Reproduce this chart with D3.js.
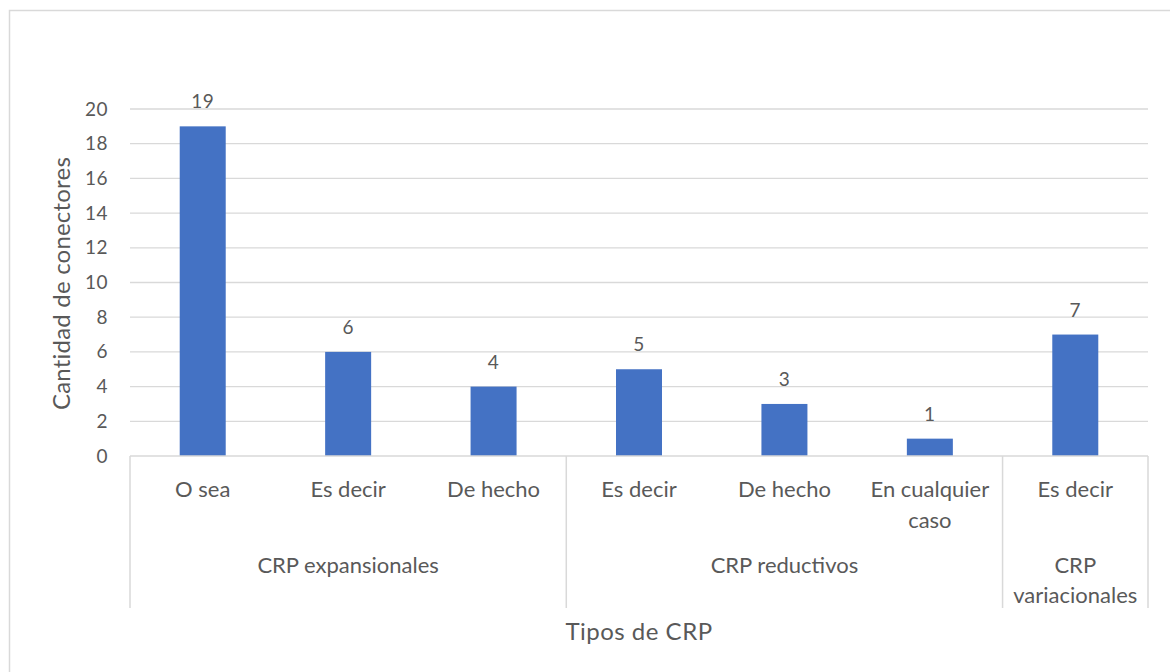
<!DOCTYPE html>
<html><head><meta charset="utf-8">
<script src="https://cdn.jsdelivr.net/npm/d3@7"></script>
<style>body{margin:0;background:#fff}svg{display:block}text{font-family:Lato,"Open Sans",sans-serif;fill:#595959}</style>
</head><body><svg id="c" width="1170" height="672"></svg>
<script>
const categories = ["O sea","Es decir","De hecho","Es decir","De hecho","En cualquier caso","Es decir"];
const categoryLines = [["O sea"],["Es decir"],["De hecho"],["Es decir"],["De hecho"],["En cualquier","caso"],["Es decir"]];
const groups = ["CRP expansionales","CRP reductivos","CRP variacionales"];
const groupLines = [["CRP expansionales"],["CRP reductivos"],["CRP","variacionales"]];
const groupSpans = [3,3,1];
const values = [19,6,4,5,3,1,7];
const yTicks = [0,2,4,6,8,10,12,14,16,18,20];

const svg = d3.select("#c");
const L=130, R=1148, T=109, B=456;
svg.append("rect").attr("x",9.5).attr("y",10.5).attr("width",1170).attr("height",700).attr("fill","none").attr("stroke","#d9d9d9").attr("stroke-width",1.5);

const x = d3.scaleBand().domain(d3.range(categories.length)).range([L,R]).paddingInner(0).paddingOuter(0);
const y = d3.scaleLinear().domain([0,20]).range([B,T]);

// gridlines
svg.append("g").selectAll("line").data(yTicks.filter(d=>d>0)).join("line")
  .attr("x1",L).attr("x2",R).attr("y1",d=>y(d)).attr("y2",d=>y(d))
  .attr("stroke","#d9d9d9").attr("stroke-width",1.3);

// y axis labels
const ya = svg.append("g").attr("transform",`translate(${L},0)`).call(d3.axisLeft(y).tickValues(yTicks).tickSize(0).tickPadding(22));
ya.select(".domain").remove();
ya.selectAll("text").attr("font-size",19).attr("font-family","Lato").attr("fill","#595959").attr("letter-spacing",0.5);

// bars
const bw = 46;
svg.append("g").selectAll("rect").data(values).join("rect")
  .attr("x",(d,i)=>x(i)+x.bandwidth()/2-bw/2).attr("width",bw)
  .attr("y",d=>y(d)).attr("height",d=>y(0)-y(d)).attr("fill","#4472C4");

// value labels
svg.append("g").selectAll("text").data(values).join("text")
  .attr("x",(d,i)=>x(i)+x.bandwidth()/2).attr("y",d=>y(d)-18)
  .attr("text-anchor","middle").attr("font-size",19).attr("letter-spacing",0.5).text(d=>d);

// axis lines
svg.append("line").attr("x1",L).attr("x2",R).attr("y1",B).attr("y2",B).attr("stroke","#d9d9d9").attr("stroke-width",1.5);
let cum=0; const bounds=[0];
groupSpans.forEach(s=>{cum+=s;bounds.push(cum);});
svg.append("g").selectAll("line").data(bounds).join("line")
  .attr("x1",d=>d<categories.length?x(d):R).attr("x2",d=>d<categories.length?x(d):R)
  .attr("y1",B).attr("y2",608).attr("stroke","#d9d9d9").attr("stroke-width",1.5);

// category labels
const cl = svg.append("g").selectAll("text").data(categoryLines).join("text")
  .attr("x",(d,i)=>x(i)+x.bandwidth()/2).attr("y",497).attr("text-anchor","middle").attr("font-size",22);
cl.selectAll("tspan").data(d=>d).join("tspan")
  .attr("x",function(){return this.parentNode.getAttribute("x");}).attr("dy",(d,i)=>i?31:0).text(d=>d);

// group labels
const gl = svg.append("g").selectAll("text").data(groupLines).join("text")
  .attr("x",(d,i)=>(x(bounds[i])+ (bounds[i+1]<categories.length?x(bounds[i+1]):R))/2)
  .attr("y",573).attr("text-anchor","middle").attr("font-size",22);
gl.selectAll("tspan").data(d=>d).join("tspan")
  .attr("x",function(){return this.parentNode.getAttribute("x");}).attr("dy",(d,i)=>i?30:0).text(d=>d);

// axis titles
svg.append("text").attr("x",(L+R)/2).attr("y",640).attr("text-anchor","middle").attr("font-size",24).attr("letter-spacing",0.5).text("Tipos de CRP");
svg.append("text").attr("transform",`translate(70,${(T+B)/2+1}) rotate(-90)`).attr("text-anchor","middle").attr("font-size",24).attr("letter-spacing",0.2).text("Cantidad de conectores");
</script></body></html>
